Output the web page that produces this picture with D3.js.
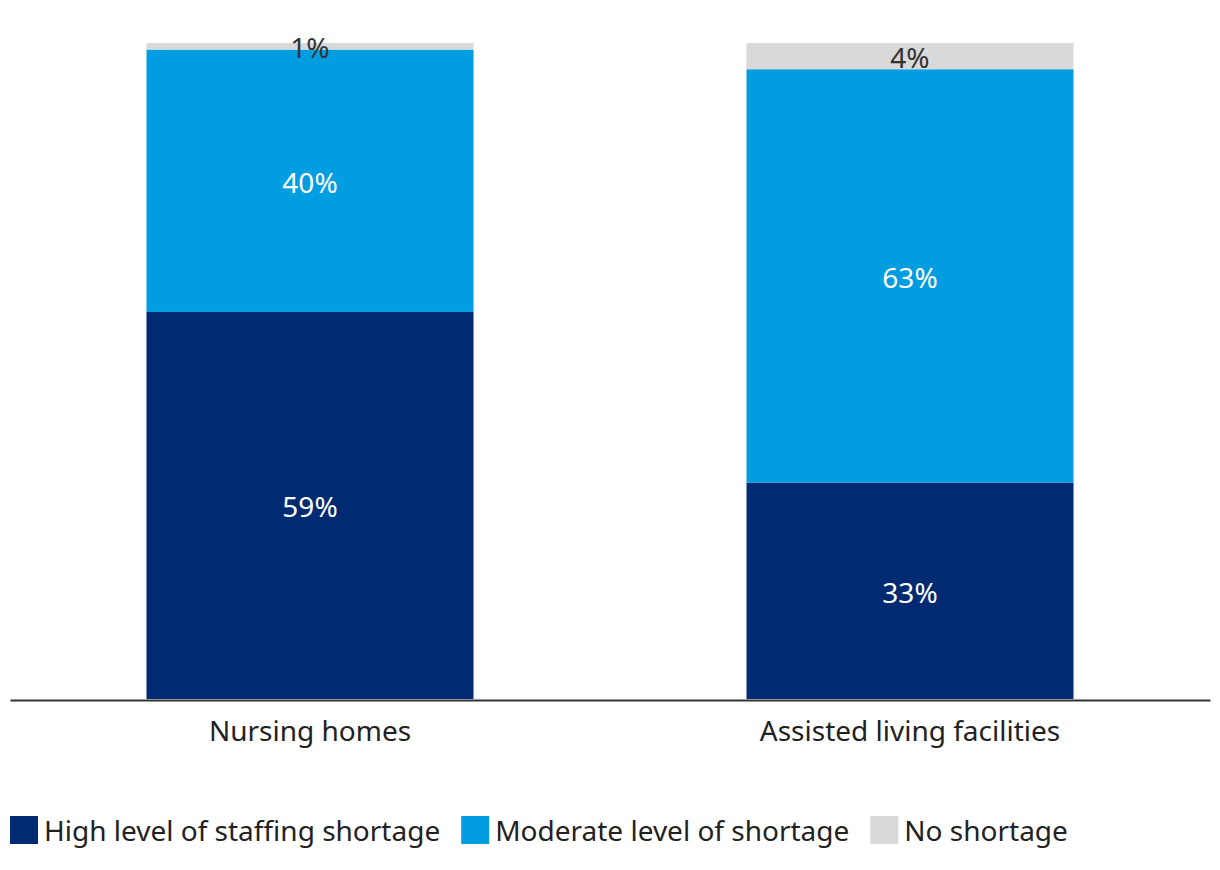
<!DOCTYPE html>
<html><head><meta charset="utf-8">
<script src="https://cdn.jsdelivr.net/npm/d3@7"></script>
<style>body{margin:0;background:#fff}svg{display:block;font-family:"Noto Sans",sans-serif}</style>
</head><body><svg id="c" width="1220" height="870"></svg>
<script>
const categories = ["Nursing homes", "Assisted living facilities"];
const seriesNames = ["High level of staffing shortage", "Moderate level of shortage", "No shortage"];
const highShortage = [59, 33];
const moderateShortage = [40, 63];
const noShortage = [1, 4];
const colors = ["#002b73", "#009ee0", "#d9d9d9"];
const labelColors = ["#ffffff", "#ffffff", "#333333"];

const svg = d3.select("#c");
const x = d3.scaleBand().domain(categories).range([10, 1210]).paddingInner(0.455).paddingOuter(0.2275);
const y = d3.scaleLinear().domain([0, 100]).range([699, 43]);

const rows = categories.map((c, i) => ({cat: c, s0: highShortage[i], s1: moderateShortage[i], s2: noShortage[i]}));
const stack = d3.stack().keys(["s0", "s1", "s2"])(rows);

stack.forEach((layer, k) => {
  const g = svg.append("g");
  g.selectAll("rect").data(layer).join("rect")
    .attr("x", d => x(d.data.cat)).attr("width", x.bandwidth())
    .attr("y", d => y(d[1])).attr("height", d => y(d[0]) - y(d[1]))
    .attr("fill", colors[k]);
  g.selectAll("text").data(layer).join("text")
    .attr("x", d => x(d.data.cat) + x.bandwidth() / 2)
    .attr("y", d => (y(d[0]) + y(d[1])) / 2 + 1)
    .attr("text-anchor", "middle").attr("dominant-baseline", "central")
    .attr("font-size", 28).attr("fill", labelColors[k])
    .text(d => (d[1] - d[0]) + "%");
});

const xAxis = svg.append("g").attr("transform", "translate(0,700)")
  .call(d3.axisBottom(x).tickSize(0).tickPadding(21));
xAxis.select(".domain").attr("stroke", "#333").attr("stroke-width", 2);
xAxis.selectAll("text").attr("font-size", 28).attr("fill", "#222").attr("font-family", "Noto Sans");

const legend = svg.append("g");
let lx = 10;
seriesNames.forEach((n, k) => {
  const g = legend.append("g").attr("transform", `translate(${lx},0)`);
  g.append("rect").attr("x", 0).attr("y", 816).attr("width", 28).attr("height", 28).attr("fill", colors[k]);
  const t = g.append("text").attr("x", 34).attr("y", 830).attr("dominant-baseline", "central")
    .attr("font-size", 28).attr("fill", "#222").text(n);
  lx += 34 + t.node().getComputedTextLength() + 21;
});
</script></body></html>
